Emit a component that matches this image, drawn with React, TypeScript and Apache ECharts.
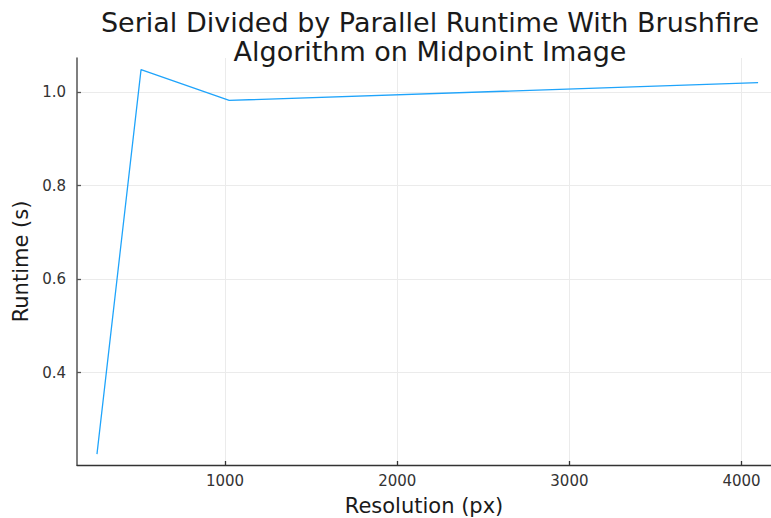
import React, { useEffect, useRef } from "react";
import * as echarts from "echarts";

const resolutions = [256, 512, 1024, 4096];
const speedup = [0.226, 1.048, 0.982, 1.02];
const xTicks = [1000, 2000, 3000, 4000];
const yTicks = [0.4, 0.6, 0.8, 1.0];
const titleText = "Serial Divided by Parallel Runtime With Brushfire\nAlgorithm on Midpoint Image";

export default function App() {
  const ref = useRef<HTMLDivElement>(null);
  useEffect(() => {
    if (!ref.current) return;
    const chart = echarts.init(ref.current, null, { renderer: "svg" });
    const font = "DejaVu Sans";
    chart.setOption({
      animation: false,
      backgroundColor: "#ffffff",
      textStyle: { fontFamily: font },
      title: {
        text: titleText,
        left: 425,
        top: 3,
        textAlign: "center",
        textStyle: { fontFamily: font, fontSize: 27, fontWeight: "normal", color: "#1a1a1a", lineHeight: 29 },
      },
      grid: { left: 77, top: 58, right: 0, bottom: 53, containLabel: false, outerBoundsMode: "none" },
      xAxis: {
        type: "value",
        min: 140,
        max: 4171,
        name: "Resolution (px)",
        nameLocation: "middle",
        nameGap: 30,
        nameTextStyle: { fontFamily: font, fontSize: 21, color: "#1a1a1a" },
        axisLine: { show: true, onZero: false, lineStyle: { color: "#333", width: 1.3 } },
        axisTick: { show: true, inside: true, length: 4, customValues: xTicks, lineStyle: { color: "#333", width: 1.3 } },
        axisLabel: {
          customValues: xTicks,
          fontFamily: font,
          fontSize: 15,
          color: "#333",
          margin: 8,
          formatter: (v: number) => String(v),
        },
        splitLine: { show: true, lineStyle: { color: "#ebebeb", width: 1 } },
      },
      yAxis: {
        type: "value",
        min: 0.2026,
        max: 1.0727,
        name: "Runtime (s)",
        nameLocation: "middle",
        nameGap: 46,
        nameRotate: 90,
        nameTextStyle: { fontFamily: font, fontSize: 21, color: "#1a1a1a" },
        axisLine: { show: true, onZero: false, lineStyle: { color: "#555", width: 1.5 } },
        axisTick: { show: true, inside: true, length: 4, customValues: yTicks, lineStyle: { color: "#555", width: 1.3 } },
        axisLabel: {
          customValues: yTicks,
          fontFamily: font,
          fontSize: 15,
          color: "#333",
          margin: 11,
          formatter: (v: number) => v.toFixed(1),
        },
        splitLine: { show: true, lineStyle: { color: "#ebebeb", width: 1 } },
      },
      series: [
        {
          type: "line",
          data: resolutions.map((r, i) => [r, speedup[i]]),
          showSymbol: false,
          symbol: "none",
          lineStyle: { color: "#1fa4fb", width: 1.3 },
          itemStyle: { color: "#1fa4fb" },
        },
      ],
    });
    return () => chart.dispose();
  }, []);
  return (
    <div
      ref={ref}
      style={{ position: "absolute", left: 0, top: 0, width: 771, height: 518 }}
    />
  );
}
